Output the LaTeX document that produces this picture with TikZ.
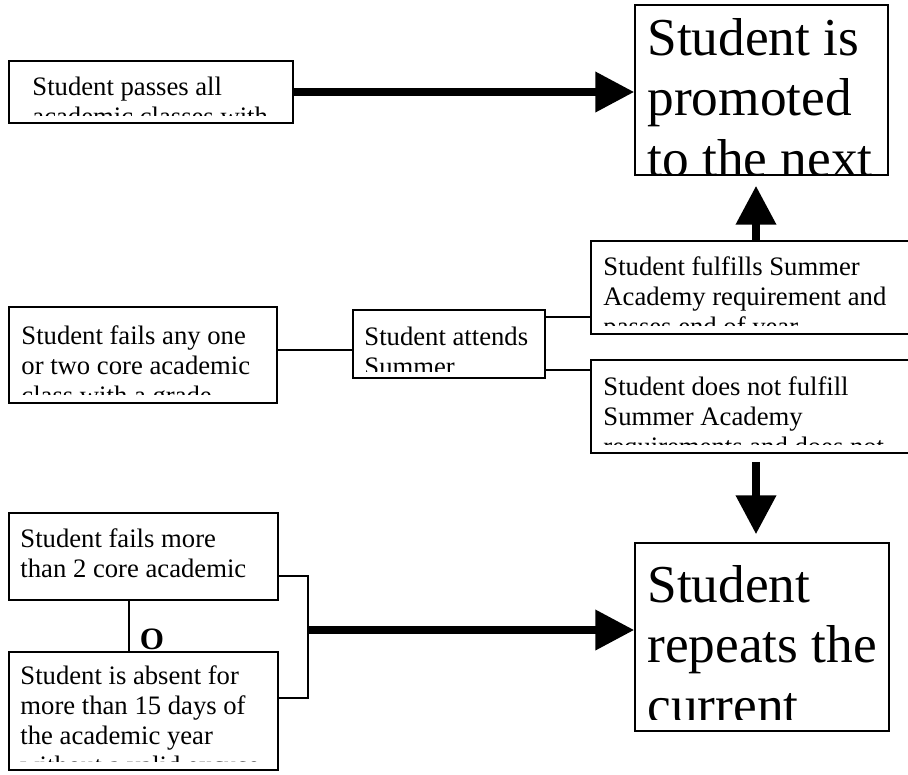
\documentclass[tikz,border=0pt]{standalone}
\usepackage{fontspec}
\setmainfont{Liberation Serif}
\usetikzlibrary{arrows.meta,fit,calc}

% text sizes used in the boxes
\newcommand\smalltext{\fontsize{12}{13.6}\selectfont}
\newcommand\bigtext{\fontsize{24}{27.4}\selectfont}
% stacked lines, aligned on the baseline of the first one
\newcommand\lines[1]{\begin{tabular}[t]{@{}l@{}}#1\end{tabular}}

\begin{document}
\begin{tikzpicture}[x=0.45pt,y=-0.45pt,
  box/.style={draw, line width=0.75pt, inner sep=0pt},
  txt/.style={anchor=base west, inner sep=0pt, font=\smalltext},
  bigtxt/.style={anchor=base west, inner sep=0pt, font=\bigtext},
  thin/.style={line width=0.75pt},
  heavy/.style={line width=3.4pt, -{Triangle[length=17.5pt,width=17.5pt]}},
]
\clip (0,0) rectangle (908,774);
\fill[white] (0,0) rectangle (908,774);

% ---------- boxes ----------
\node[box, fit={(9,61) (293,123)}]   (A) {};
\node[box, fit={(635,5) (888,175)}]  (B) {};
\node[box, fit={(591,241) (930,334)}] (D) {};
\node[box, fit={(9,307) (277,403)}]  (C) {};
\node[box, fit={(353,310) (545,378)}] (E) {};
\node[box, fit={(591,360) (930,453)}] (F) {};
\node[box, fit={(635,543) (889,731)}] (G) {};
\node[box, fit={(9,513) (278,600)}]  (H) {};
\node[box, fit={(9,652) (278,770)}]  (I) {};

% ---------- texts, cut off at the bottom of each box ----------
\begin{scope}
  \clip (9,61) rectangle (293,115);
  \node[txt] (Atext) at (32,95) {\lines{Student passes all\\academic classes with}};
\end{scope}
\begin{scope}
  \clip (635,5) rectangle (888,175);
  \node[bigtxt] (Btext) at (647,55) {\lines{Student is\\promoted\\to the next}};
\end{scope}
\begin{scope}
  \clip (591,241) rectangle (930,325);
  \node[txt] (Dtext) at (603,275) {\lines{Student fulfills Summer\\Academy requirement and\\passes end of year}};
\end{scope}
\begin{scope}
  \clip (9,307) rectangle (277,394);
  \node[txt] (Ctext) at (21,344) {\lines{Student fails any one\\or two core academic\\class with a grade}};
\end{scope}
\begin{scope}
  \clip (353,310) rectangle (545,371);
  \node[txt] (Etext) at (364,345) {\lines{Student attends\\Summer}};
\end{scope}
\begin{scope}
  \clip (591,360) rectangle (930,444);
  \node[txt] (Ftext) at (603,395) {\lines{Student does not fulfill\\Summer Academy\\requirements and does not}};
\end{scope}
\begin{scope}
  \clip (635,543) rectangle (889,719);
  \node[bigtxt] (Gtext) at (647,602) {\lines{Student\\repeats the\\current}};
\end{scope}
\begin{scope}
  \clip (9,513) rectangle (278,596);
  \node[txt] (Htext) at (20,547) {\lines{Student fails more\\than 2 core academic}};
\end{scope}
\begin{scope}
  \clip (9,652) rectangle (278,761);
  \node[txt] (Itext) at (20,684) {\lines{Student is absent for\\more than 15 days of\\the academic year\\without a valid excuse}};
\end{scope}

% ---------- connector levels ----------
\coordinate (upx) at (756,0);
\coordinate (cy)  at (0,350);
\coordinate (r1)  at (0,317);
\coordinate (r2)  at (0,370);
\coordinate (vx)  at (129,0);
\coordinate (b1)  at (308,576);
\coordinate (b2)  at (308,698);
\coordinate (bm)  at (308,630);

% ---------- connectors ----------
\draw[heavy] (A.east) -- (A.east -| B.west);
\draw[heavy, shorten >=4.5pt] (D.north -| upx) -- (B.south -| upx);
\draw[heavy, shorten <=3.6pt, shorten >=3.6pt] (F.south -| upx) -- (G.north -| upx);

\draw[thin] (C.east |- cy) -- (E.west |- cy);
\draw[thin] (E.east |- r1) -- (D.west |- r1);
\draw[thin] (E.east |- r2) -- (F.west |- r2);

\draw[thin] (H.south -| vx) -- (I.north -| vx);
\node[font=\fontsize{14}{16}\selectfont\bfseries] (or) at (152,639) {O};

\draw[thin] (H.east |- b1) -- (b1) -- (b2) -- (I.east |- b2);
\draw[heavy] (bm) -- (bm -| G.west);
\end{tikzpicture}
\end{document}
